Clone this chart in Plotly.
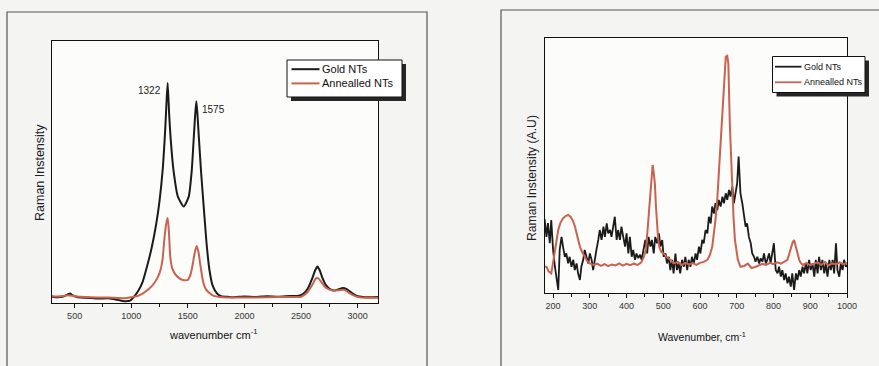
import plotly.graph_objects as go

# reference canvas size; all layout positions are expressed as fractions of it
W, H = 879, 366


def px(x):
    return x / W


def py(y):
    return 1 - y / H


# ---------------- Left panel data (wavenumber cm-1, relative intensity) -------------
left_gold_x = [300, 350, 400, 440, 460, 480, 520, 600, 700, 800, 880, 940, 990, 1020, 1060,
               1100, 1140, 1180, 1220, 1250, 1280, 1300, 1312, 1322, 1335, 1347, 1373, 1412,
               1464, 1508, 1535, 1553, 1565, 1575, 1585, 1597, 1617, 1638, 1665, 1691, 1720,
               1760, 1800, 1850, 1900, 2000, 2100, 2200, 2300, 2400, 2480, 2520, 2560, 2600,
               2625, 2645, 2665, 2690, 2720, 2760, 2800, 2840, 2870, 2900, 2930, 2960, 3000,
               3050, 3100, 3180]
left_gold_y = [2.4, 2.2, 2.5, 3.3, 3.6, 3.0, 2.3, 2.0, 1.7, 1.8, 1.2, 0.7, 0.9, 2.2, 4.5,
               8, 14, 21, 30, 39, 52, 66, 77, 84, 72, 63.5, 50.8, 40.6,
               36.8, 40.6, 50.8, 63.5, 72, 77, 72, 63.5, 50, 38, 23, 12.6, 6.5,
               3.5, 2.5, 2.4, 2.2, 2.5, 2.3, 2.6, 2.4, 2.7, 2.8, 3.5, 5.5, 9.5,
               12.5, 13.9, 12.5, 9.5, 6.8, 5.2, 4.8, 5.4, 5.7, 5.4, 4.5, 3.5, 2.6,
               2.3, 2.2, 2.3]

left_ann_x = [300, 350, 400, 440, 480, 520, 600, 700, 800, 880, 940, 1000, 1050, 1100, 1160,
              1210, 1250, 1275, 1294, 1310, 1322, 1333, 1344, 1360, 1382, 1420, 1456, 1500,
              1525, 1544, 1562, 1578, 1594, 1609, 1625, 1638, 1660, 1691, 1730, 1780, 1850,
              2000, 2200, 2400, 2500, 2550, 2600, 2630, 2650, 2680, 2720, 2780, 2840, 2880,
              2920, 2960, 3000, 3100, 3180]
left_ann_y = [2.6, 2.5, 2.7, 3.0, 2.8, 2.5, 2.3, 2.1, 2.1, 1.9, 1.8, 2.2, 2.6, 3.6, 5.5,
              8, 11.4, 16, 25, 30.5, 32.4, 27, 18, 13.5, 11.4, 9.6, 8.8, 8.8,
              11, 15, 19.5, 21.8, 19.5, 15, 10.5, 7.6, 5.2, 3.8, 2.7, 2.3, 2.1,
              2.1, 2.2, 2.3, 2.4, 3.8, 7.0, 9.3, 9.5, 8.0, 5.8, 4.8, 4.9, 5.0,
              4.0, 3.0, 2.3, 2.0, 2.0]

left_ticks = [500, 1000, 1500, 2000, 2500, 3000]

# ---------------- Right panel data ----------------
right_gold_x = [177, 182, 186, 191, 195, 200, 205, 209, 214, 218, 223, 227, 232, 236, 241, 245,
                250, 255, 259, 264, 268, 273, 277, 282, 286, 291, 296, 300, 305, 309, 314, 318,
                323, 327, 332, 337, 341, 346, 350, 355, 359, 364, 368, 373, 377, 382, 386, 391,
                396, 400, 405, 409, 414, 418, 423, 427, 432, 437, 441, 446, 451, 456, 460, 465,
                469, 474, 478, 483, 488, 492, 497, 501, 506, 510, 515, 519, 524, 528, 533, 537,
                542, 546, 551, 556, 560, 565, 569, 574, 578, 583, 588, 592, 597, 601, 606, 610,
                615, 620, 624, 629, 633, 638, 642, 647, 651, 656, 661, 665, 670, 674, 679, 683,
                688, 692, 697, 701, 705, 710, 715, 719, 724, 728, 733, 738, 742, 747, 751, 756,
                761, 765, 770, 774, 779, 783, 788, 792, 797, 801, 806, 811, 815, 820, 824, 829,
                833, 838, 842, 847, 851, 856, 861, 865, 870, 874, 879, 883, 888, 892, 897, 901,
                906, 911, 915, 920, 924, 929, 933, 938, 942, 947, 952, 956, 961, 965, 970, 974,
                979, 983, 988, 992, 997, 1000]
right_gold_y = [29, 22, 27.4, 19.5, 28.6, 16.9, 10.3, 6.4, 1.2, 16.9, 22, 18.2, 14.2, 15.5, 11.6, 14.2,
                10.3, 13, 9, 11.6, 7.7, 5.1, 10.3, 13, 16.9, 14.2, 11.6, 15.5, 13, 9, 14.2, 16.9,
                20.8, 24.7, 20.8, 26, 22, 27.3, 23.4, 24.7, 22, 26, 29.9, 20.8, 24.7, 20.8, 26, 22,
                18.2, 23.4, 15.5, 22, 14.2, 16.9, 13, 15.5, 13.7, 15, 13, 16.9, 20.8, 15.5, 22, 18.2,
                20.8, 15.5, 22, 19.5, 23.4, 18.2, 20.8, 14.2, 15.5, 11.6, 14.2, 9, 13, 7.7, 15.5, 9,
                11.6, 7.7, 13, 10.3, 14.2, 9, 13, 10.3, 14.2, 11.6, 15.5, 13, 18.2, 15.5, 20.8, 19.5,
                24.7, 23.4, 29.9, 27.3, 33.9, 31.2, 35.2, 32.5, 36.5, 33.9, 37.8, 35.2, 39.1, 36.5, 40.4, 37.8,
                41.7, 35.2, 40.4, 43, 53.5, 39.1, 35.2, 31.2, 26, 27.3, 22, 19.5, 15.5, 14.2, 12.3, 14.2,
                11.6, 13.6, 12.3, 15.5, 11.6, 13, 15.5, 11.6, 16.9, 19.5, 9, 7.7, 10.3, 6.4, 9, 5.1,
                7.7, 3.8, 6.4, 2.5, 7.7, 1.2, 7.7, 5.1, 9, 6.4, 10.3, 7.7, 11.6, 7.7, 13, 9,
                11.6, 6.4, 13, 7.7, 14.2, 9, 13, 7.7, 11.6, 6.4, 13, 9, 13, 7.7, 19.5, 9,
                6.4, 11.6, 9, 13, 10.3, 11]

right_ann_x = [178, 182, 188, 195, 200, 205, 210, 214, 220, 227, 234, 241, 248, 255, 260, 264,
               268, 273, 280, 286, 293, 300, 310, 320, 330, 340, 350, 360, 370, 380, 390, 400,
               410, 420, 430, 440, 447, 453, 460, 464, 467, 471, 474, 477, 480, 483, 486, 489,
               495, 501, 510, 519, 528, 540, 550, 560, 570, 580, 590, 600, 610, 620, 627, 633,
               638, 642, 647, 651, 656, 661, 666, 670, 674, 677, 681, 684, 688, 691, 695, 699,
               703, 710, 720, 730, 740, 750, 760, 770, 780, 790, 800, 810, 820, 830, 838, 842,
               847, 852, 856, 860, 865, 870, 874, 880, 890, 900, 910, 920, 930, 940, 950, 960,
               970, 980, 990, 1000]
right_ann_y = [10.3, 10.3, 8.5, 7.7, 12, 16.9, 21, 24.7, 27.5, 29.3, 30.2, 30.6, 29.8, 28, 25.8, 23.5,
               20.8, 18.2, 15.8, 14.2, 12.5, 11.6, 11, 11.5, 10.6, 11.3, 10.5, 11.2, 10.8, 11.6, 10.7, 11.4,
               10.9, 11.5, 11, 12, 14.2, 17, 31, 38, 44, 50.2, 47, 43, 34, 26, 21, 18,
               16, 15.5, 14, 13, 11.6, 12.2, 11, 11.8, 11.2, 11.7, 11, 11.8, 12.2, 13, 15, 18,
               23, 28.6, 37, 47, 60, 73, 85, 92.7, 93, 90, 66.6, 53, 40, 30, 20.8, 16,
               13, 10.3, 10.6, 11.5, 9.8, 10.2, 10.8, 11.4, 11, 11.8, 11.3, 12, 11.5, 12.3, 13, 15,
               17.5, 19.8, 20.8, 18.5, 15.7, 13, 11.8, 11, 11.8, 10.8, 11.5, 12, 11, 12.2, 10.8, 11.6,
               11.2, 12, 11.3, 11.8]

right_ticks = [200, 300, 400, 500, 600, 700, 800, 900, 1000]

series_names = ["Gold NTs", "Annealled NTs"]

BLACK = "#1b1b1b"
RED = "#c9624e"
FONT = "Liberation Sans, Arial, sans-serif"

fig = go.Figure()
fig.add_trace(go.Scatter(x=left_gold_x, y=left_gold_y, name=series_names[0], mode="lines",
                         line=dict(color=BLACK, width=2, shape="spline", smoothing=0.5),
                         xaxis="x", yaxis="y", showlegend=False))
fig.add_trace(go.Scatter(x=left_ann_x, y=left_ann_y, name=series_names[1], mode="lines",
                         line=dict(color=RED, width=2, shape="spline", smoothing=0.5),
                         xaxis="x", yaxis="y", showlegend=False))
fig.add_trace(go.Scatter(x=right_gold_x, y=right_gold_y, name=series_names[0], mode="lines",
                         line=dict(color=BLACK, width=1.8),
                         xaxis="x2", yaxis="y2", showlegend=False))
fig.add_trace(go.Scatter(x=right_ann_x, y=right_ann_y, name=series_names[1], mode="lines",
                         line=dict(color=RED, width=2),
                         xaxis="x2", yaxis="y2", showlegend=False))

axis_common = dict(showline=True, linecolor="#111", linewidth=1, mirror=True,
                   showgrid=False, zeroline=False)


def frame_path(pts):
    return "M " + " L ".join(f"{px(x):.5f},{py(y):.5f}" for x, y in pts)


shapes = [
    # outer frames (open paths, kept inside the page)
    dict(type="path", xref="paper", yref="paper",
         path=frame_path([(7, 366), (7, 12), (427, 12), (427, 366)]),
         line=dict(color="#555", width=1.2), layer="below"),
    dict(type="path", xref="paper", yref="paper",
         path=frame_path([(501, 366), (501, 10), (879, 10)]),
         line=dict(color="#555", width=1.2), layer="below"),
]
annotations = []


def add_legend(box, shadow, line_x, rows, text_x, font_size, line_w):
    x0, y0, x1, y1 = box
    shapes.append(dict(type="rect", xref="paper", yref="paper",
                       x0=px(x0 + shadow), x1=px(x1 + shadow), y0=py(y1 + shadow), y1=py(y0 + shadow),
                       fillcolor="#262626", line=dict(width=0), layer="above"))
    shapes.append(dict(type="rect", xref="paper", yref="paper",
                       x0=px(x0), x1=px(x1), y0=py(y1), y1=py(y0),
                       fillcolor="white", line=dict(color="#111", width=1), layer="above"))
    for (name, color), ry in zip(zip(series_names, [BLACK, RED]), rows):
        shapes.append(dict(type="line", xref="paper", yref="paper",
                           x0=px(line_x[0]), x1=px(line_x[1]), y0=py(ry), y1=py(ry),
                           line=dict(color=color, width=line_w), layer="above"))
        annotations.append(dict(text=name, x=px(text_x), y=py(ry), xref="paper", yref="paper",
                                xanchor="left", yanchor="middle", showarrow=False,
                                font=dict(size=font_size, color="#111", family=FONT)))


add_legend((287, 60, 402, 97), 4, (291.5, 319.5), (69.2, 83.4), 320, 11, 2)
add_legend((772.5, 56.5, 865, 92.5), 4, (775, 801.5), (66.7, 82.3), 801.5, 9, 1.8)

annotations += [
    dict(text="1322", x=1322, y=84, xref="x", yref="y", xanchor="right", yanchor="middle",
         xshift=-5, yshift=-8, showarrow=False, font=dict(size=10, color="#222", family=FONT)),
    dict(text="1575", x=1575, y=77, xref="x", yref="y", xanchor="left", yanchor="middle",
         xshift=4, yshift=-8, showarrow=False, font=dict(size=10, color="#222", family=FONT)),
    dict(text="wavenumber cm<sup>-1</sup>", x=px(213), y=py(334), xref="paper", yref="paper",
         xanchor="center", yanchor="middle", showarrow=False,
         font=dict(size=11, color="#111", family=FONT)),
    dict(text="Raman Instensity", x=px(40), y=py(173), xref="paper", yref="paper",
         xanchor="center", yanchor="middle", textangle=-90, showarrow=False,
         font=dict(size=12.5, color="#222", family=FONT)),
    dict(text="Wavenumber, cm<sup>-1</sup>", x=px(702), y=py(336), xref="paper", yref="paper",
         xanchor="center", yanchor="middle", showarrow=False,
         font=dict(size=10.5, color="#111", family=FONT)),
    dict(text="Raman Instensity (A.U)", x=px(532), y=py(178), xref="paper", yref="paper",
         xanchor="center", yanchor="middle", textangle=-90, showarrow=False,
         font=dict(size=12.2, color="#222", family=FONT)),
]

fig.update_layout(
    autosize=True,
    margin=dict(l=0, r=0, t=0, b=0, pad=0, autoexpand=False),
    paper_bgcolor="#f4f4f2",
    plot_bgcolor="#fcfcfb",
    xaxis=dict(domain=[px(52), px(378)], range=[300, 3180], anchor="y",
               tickvals=left_ticks, ticks="outside", ticklen=4, tickcolor="#111",
               tickfont=dict(size=9, color="#333", family=FONT),
               minor=dict(ticks="outside", ticklen=2.5, dtick=250, tick0=250, tickcolor="#111"),
               **axis_common),
    yaxis=dict(domain=[py(303), py(41)], range=[0, 100], anchor="x",
               showticklabels=False, ticks="", **axis_common),
    xaxis2=dict(domain=[px(545), px(847)], range=[178, 1000], anchor="y2",
                tickvals=right_ticks, ticks="outside", ticklen=4, tickcolor="#111",
                tickfont=dict(size=9, color="#333", family=FONT),
                minor=dict(ticks="outside", ticklen=2.5, dtick=50, tick0=150, tickcolor="#111"),
                **axis_common),
    yaxis2=dict(domain=[py(293), py(38)], range=[0, 100], anchor="x2",
                showticklabels=False, ticks="", **axis_common),
    shapes=shapes,
    annotations=annotations,
    showlegend=False,
)

fig.write_html(
    "out.html",
    default_width="100vw",
    default_height="100vh",
    config={"displayModeBar": False, "responsive": True},
    post_script=("document.documentElement.style.overflow='hidden';"
                 "document.body.style.overflow='hidden';"
                 "document.body.style.margin='0';document.body.style.padding='0';"),
)
